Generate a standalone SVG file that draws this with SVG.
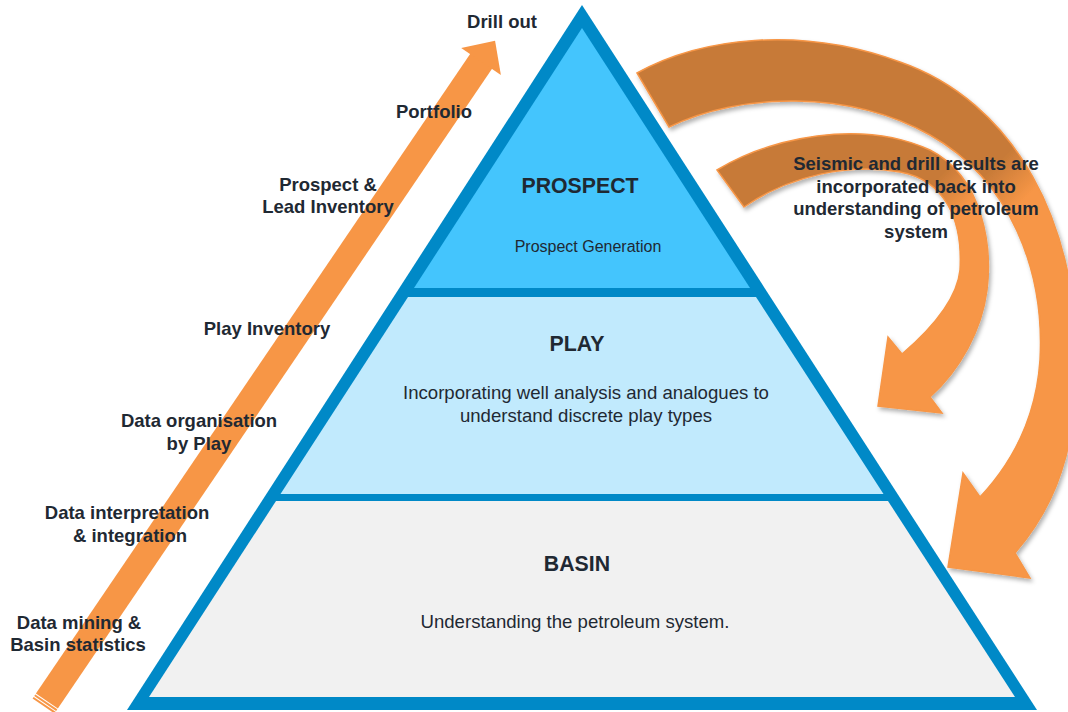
<svg xmlns="http://www.w3.org/2000/svg" width="1068" height="712" viewBox="0 0 1068 712">
  <defs>
    <style>
      .lbl { font-family: "Liberation Sans", Arial, sans-serif; font-weight: bold; font-size: 18.5px; fill: #1F2933; text-anchor: middle; }
      .title { font-family: "Liberation Sans", Arial, sans-serif; font-weight: bold; font-size: 21.3px; fill: #1F2933; text-anchor: middle; }
      .body { font-family: "Liberation Sans", Arial, sans-serif; font-size: 18.6px; fill: #1F2933; text-anchor: middle; }
      .small { font-family: "Liberation Sans", Arial, sans-serif; font-size: 16px; fill: #1F2933; text-anchor: middle; }
      .frame { fill: #0089C7; }
      .curved { stroke: #F79646; stroke-width: 1.5; stroke-linejoin: miter; filter: url(#shadow); }
      .up { fill: #F79646; }
    </style>
    <filter id="shadow" x="-10%" y="-10%" width="130%" height="130%">
      <feDropShadow dx="2" dy="3" stdDeviation="2" flood-color="#000" flood-opacity="0.3"/>
    </filter>
    <linearGradient id="gOuter" gradientUnits="userSpaceOnUse" x1="580" y1="580" x2="612" y2="612">
      <stop offset="0" stop-color="#C77A38"/>
      <stop offset="1" stop-color="#F79646"/>
    </linearGradient>
    <linearGradient id="gInner" gradientUnits="userSpaceOnUse" x1="558" y1="558" x2="586" y2="586">
      <stop offset="0" stop-color="#C77A38"/>
      <stop offset="1" stop-color="#F79646"/>
    </linearGradient>
  </defs>

  <rect width="1068" height="712" fill="#FFFFFF"/>

  <!-- pyramid frame and tiers -->
  <g id="pyramid">
    <polygon class="frame" points="582,5 127,710 1037,710"/>
    <g id="prospect">
      <polygon points="582,28 414,288 750,288" fill="#44C5FD"/>
      <text class="title" x="580" y="193">PROSPECT</text>
      <text class="small" x="588" y="252">Prospect Generation</text>
    </g>
    <g id="play">
      <polygon points="408,297 756,297 883.5,494 280.5,494" fill="#C1EAFD"/>
      <text class="title" x="577" y="351">PLAY</text>
      <text class="body" x="586" y="399">Incorporating well analysis and analogues to</text>
      <text class="body" x="586" y="422">understand discrete play types</text>
    </g>
    <g id="basin">
      <polygon points="276,501 888,501 1015,697 149,697" fill="#F1F1F1"/>
      <text class="title" x="577" y="571">BASIN</text>
      <text class="body" x="575" y="628">Understanding the petroleum system.</text>
    </g>
  </g>

  <!-- connectors: rising progress arrow and the two feedback arrows -->
  <g id="connectors">
    <g id="progress-arrow" transform="translate(43.5,706) rotate(-55.83)">
      <rect class="up" x="0" y="-13.25" width="2" height="26.5"/>
      <rect class="up" x="3" y="-13.25" width="2" height="26.5"/>
      <rect class="up" x="6" y="-13.25" width="774" height="26.5"/>
      <polygon class="up" points="779,-24 804,0 779,24"/>
    </g>
    <path id="feedback-outer" class="curved" fill="url(#gOuter)"
      d="M637,73 C700,38 800,25 900,62 C1010,100 1085,220 1076,390 C1072,465 1048,515 1015,553
         L1030,578 L948,567 L963,473 L980,497
         C1010,465 1036,420 1040,360 C1045,270 1010,180 930,135 C850,90 740,92 669,127 Z"/>
    <path id="feedback-inner" class="curved" fill="url(#gInner)"
      d="M717,170 C770,138 860,118 930,150 C985,178 992,250 987,290 C982,330 960,370 930,397
         L942,413 L878,406 L888,337 L902,354
         C930,330 957,300 960,270 C963,220 945,180 900,172 C850,163 790,175 744,207 Z"/>
  </g>

  <!-- stage labels along the rising arrow -->
  <g id="stages">
    <text class="lbl" x="502" y="28">Drill out</text>
    <text class="lbl" x="434" y="118">Portfolio</text>
    <text class="lbl" x="328" y="191">Prospect &amp;</text>
    <text class="lbl" x="328" y="213">Lead Inventory</text>
    <text class="lbl" x="267" y="335">Play Inventory</text>
    <text class="lbl" x="199" y="427">Data organisation</text>
    <text class="lbl" x="199" y="450">by Play</text>
    <text class="lbl" x="127" y="519">Data interpretation</text>
    <text class="lbl" x="130" y="542">&amp; integration</text>
    <text class="lbl" x="79" y="629">Data mining &amp;</text>
    <text class="lbl" x="78" y="651">Basin statistics</text>
  </g>

  <g id="feedback-note">
    <text class="lbl" x="916" y="170">Seismic and drill results are</text>
    <text class="lbl" x="916" y="193">incorporated back into</text>
    <text class="lbl" x="916" y="215">understanding of petroleum</text>
    <text class="lbl" x="916" y="238">system</text>
  </g>
</svg>
